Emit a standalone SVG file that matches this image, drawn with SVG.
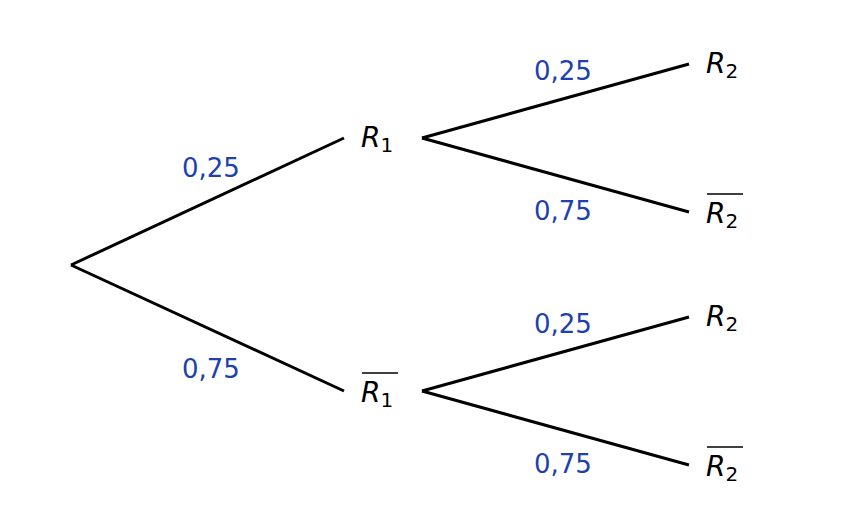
<svg xmlns="http://www.w3.org/2000/svg" width="858" height="530" viewBox="0 0 858 530">
<style>
.e{stroke:#000;stroke-width:3;fill:none}
.p{font-family:"DejaVu Sans",sans-serif;font-size:26px;fill:#2040b0}
.n{font-family:"DejaVu Sans",sans-serif;font-size:28px;font-style:italic;fill:#000}
.s{font-size:20px;font-style:normal}
.o{stroke:#000;stroke-width:1.5}
</style>
<rect width="858" height="530" fill="#fff"/>
<g id="connectors">
<line class="e" x1="71" y1="265" x2="344" y2="138"/>
<line class="e" x1="71" y1="265" x2="344" y2="391"/>
<line class="e" x1="422" y1="138" x2="689" y2="64"/>
<line class="e" x1="422" y1="138" x2="689" y2="212"/>
<line class="e" x1="422" y1="391" x2="689" y2="317"/>
<line class="e" x1="422" y1="391" x2="689" y2="465"/>
<text class="p" x="182" y="177">0,25</text>
<text class="p" x="182" y="378">0,75</text>
<text class="p" x="534" y="80">0,25</text>
<text class="p" x="534" y="220">0,75</text>
<text class="p" x="534" y="333">0,25</text>
<text class="p" x="534" y="473">0,75</text>
</g>
<g id="R1"><text class="n" x="361" y="147">R<tspan class="s" dy="5">1</tspan></text></g>
<g id="R1bar"><text class="n" x="361" y="402">R<tspan class="s" dy="5">1</tspan></text><line class="o" x1="362" y1="373" x2="398" y2="373"/></g>
<g id="R2a"><text class="n" x="706" y="73">R<tspan class="s" dy="5">2</tspan></text></g>
<g id="R2b"><text class="n" x="706" y="223">R<tspan class="s" dy="5">2</tspan></text><line class="o" x1="707" y1="194" x2="743" y2="194"/></g>
<g id="R2c"><text class="n" x="706" y="326">R<tspan class="s" dy="5">2</tspan></text></g>
<g id="R2d"><text class="n" x="706" y="476">R<tspan class="s" dy="5">2</tspan></text><line class="o" x1="707" y1="447" x2="743" y2="447"/></g>
</svg>
